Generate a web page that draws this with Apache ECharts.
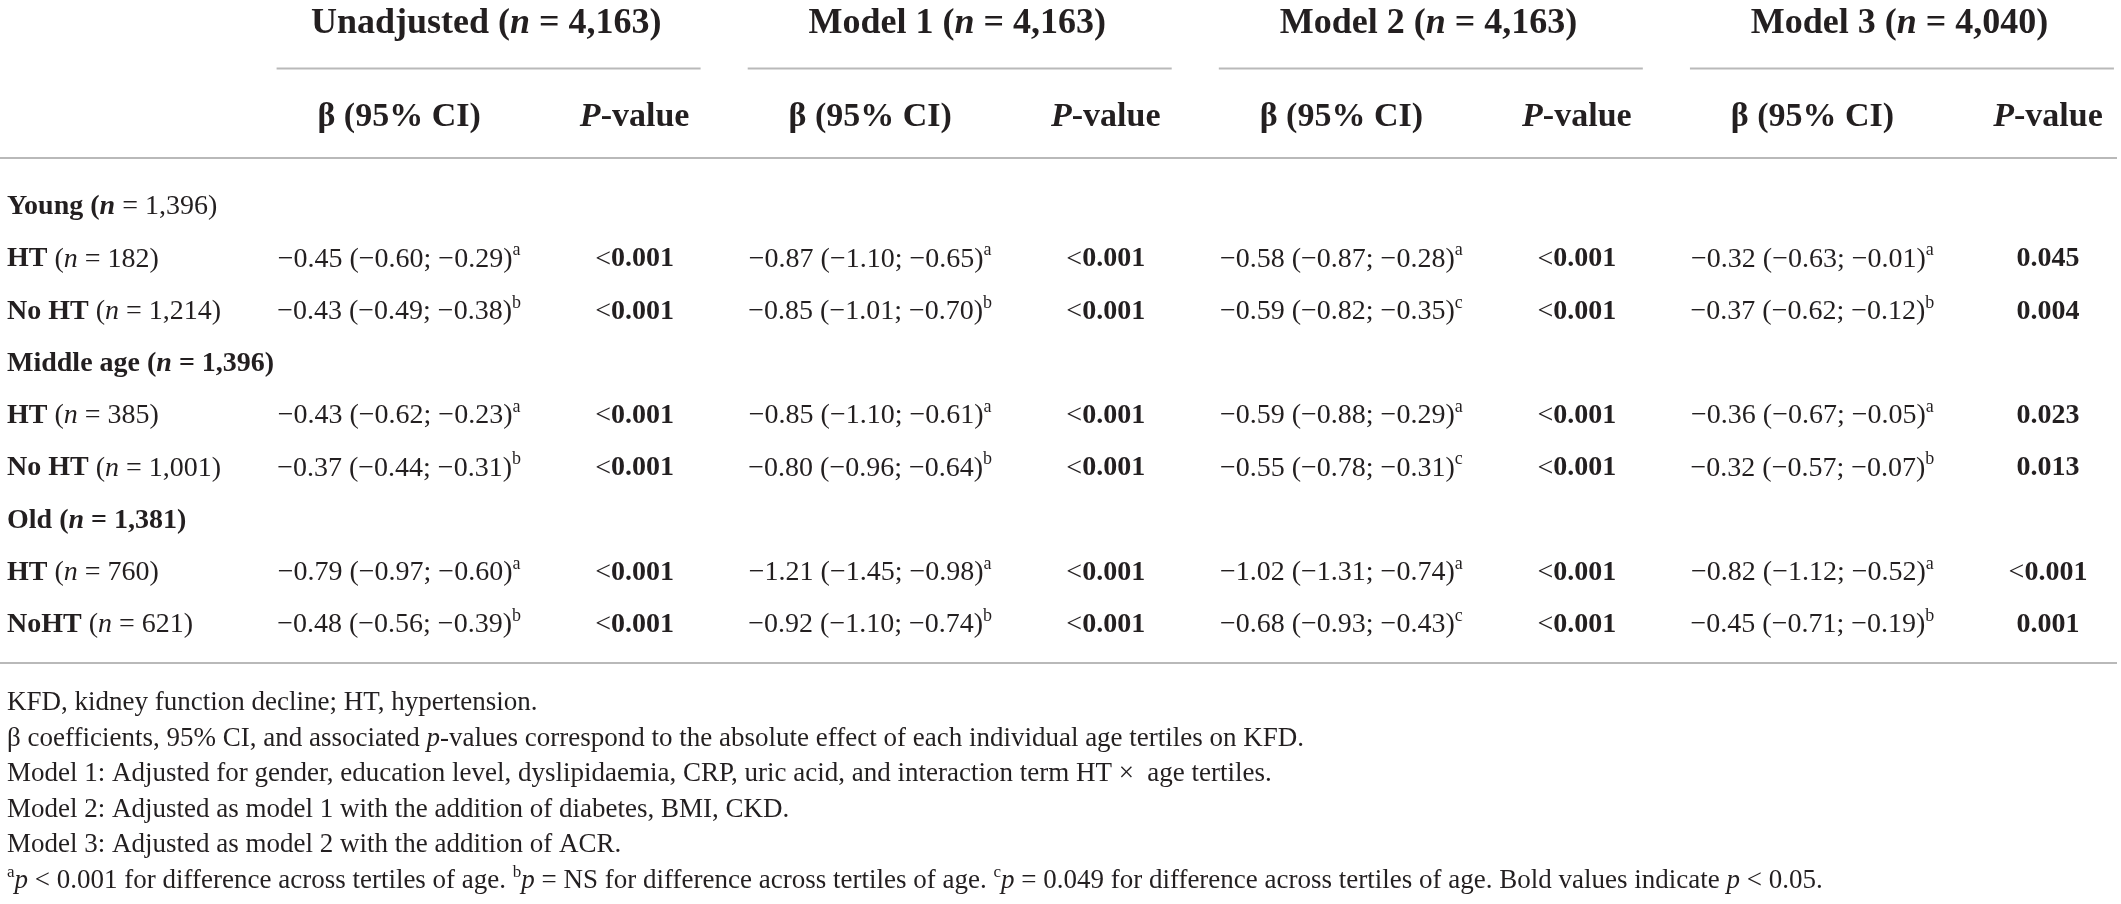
<!DOCTYPE html>
<html>
<head>
<meta charset="utf-8">
<script src="https://cdn.jsdelivr.net/npm/echarts@6/dist/echarts.min.js"></script>
<style>
  html, body { margin: 0; padding: 0; background: #fff; }
  #main { width: 2121px; height: 904px; }
</style>
</head>
<body>
<div id="main"></div>
<script>
// ---- table data ----
const modelNames = ['Unadjusted', 'Model 1', 'Model 2', 'Model 3'];
const modelN = ['4,163', '4,163', '4,163', '4,040'];
const groupNames = ['Young', 'Middle age', 'Old'];
const groupN = ['1,396', '1,396', '1,381'];
const subLabels = ['HT', 'No HT', 'HT', 'No HT', 'HT', 'NoHT'];
const subN = ['182', '1,214', '385', '1,001', '760', '621'];

// unadjusted
const unadjBeta = [-0.45, -0.43, -0.43, -0.37, -0.79, -0.48];
const unadjLow = [-0.60, -0.49, -0.62, -0.44, -0.97, -0.56];
const unadjHigh = [-0.29, -0.38, -0.23, -0.31, -0.60, -0.39];
const unadjSup = ['a', 'b', 'a', 'b', 'a', 'b'];
const unadjP = ['<0.001', '<0.001', '<0.001', '<0.001', '<0.001', '<0.001'];
// model 1
const m1Beta = [-0.87, -0.85, -0.85, -0.80, -1.21, -0.92];
const m1Low = [-1.10, -1.01, -1.10, -0.96, -1.45, -1.10];
const m1High = [-0.65, -0.70, -0.61, -0.64, -0.98, -0.74];
const m1Sup = ['a', 'b', 'a', 'b', 'a', 'b'];
const m1P = ['<0.001', '<0.001', '<0.001', '<0.001', '<0.001', '<0.001'];
// model 2
const m2Beta = [-0.58, -0.59, -0.59, -0.55, -1.02, -0.68];
const m2Low = [-0.87, -0.82, -0.88, -0.78, -1.31, -0.93];
const m2High = [-0.28, -0.35, -0.29, -0.31, -0.74, -0.43];
const m2Sup = ['a', 'c', 'a', 'c', 'a', 'c'];
const m2P = ['<0.001', '<0.001', '<0.001', '<0.001', '<0.001', '<0.001'];
// model 3
const m3Beta = [-0.32, -0.37, -0.36, -0.32, -0.82, -0.45];
const m3Low = [-0.63, -0.62, -0.67, -0.57, -1.12, -0.71];
const m3High = [-0.01, -0.12, -0.05, -0.07, -0.52, -0.19];
const m3Sup = ['a', 'b', 'a', 'b', 'a', 'b'];
const m3P = ['0.045', '0.004', '0.023', '0.013', '<0.001', '0.001'];

// footnotes (rich markup: r regular, i italic, sup superscript)
const footnotes = [
  '{r|KFD, kidney function decline; HT, hypertension.}',
  '{r|β coefficients, 95% CI, and associated }{i|p}{r|-values correspond to the absolute effect of each individual age tertiles on KFD.}',
  '{r|Model 1: Adjusted for gender, education level, dyslipidaemia, CRP, uric acid, and interaction term HT ×  age tertiles.}',
  '{r|Model 2: Adjusted as model 1 with the addition of diabetes, BMI, CKD.}',
  '{r|Model 3: Adjusted as model 2 with the addition of ACR.}',
  '{sup|a}{i|p}{r| < 0.001 for difference across tertiles of age. }{sup|b}{i|p}{r| = NS for difference across tertiles of age. }{sup|c}{i|p}{r| = 0.049 for difference across tertiles of age. Bold values indicate }{i|p}{r| < 0.05.}'
];

// ---- style ----
const FONT = "'Liberation Serif', 'DejaVu Serif', serif";
const INK = '#231f20';
const RULE = '#b9b9b9';
const BODY_SIZE = 28;
const MODEL_SIZE = 36;
const HEAD_SIZE = 34;
const NOTE_SIZE = 27;

function richSet(size) {
  const lh = Math.round(size * 1.25);
  const base = { fontFamily: FONT, fontSize: size, fill: INK, lineHeight: lh };
  return {
    r: base,
    b: Object.assign({}, base, { fontWeight: 'bold' }),
    i: Object.assign({}, base, { fontStyle: 'italic' }),
    bi: Object.assign({}, base, { fontWeight: 'bold', fontStyle: 'italic' }),
    sup: { fontFamily: FONT, fontSize: Math.round(size * 0.64), fill: INK,
           lineHeight: Math.round(size * 0.64), verticalAlign: 'top' }
  };
}
const bodyRich = richSet(BODY_SIZE);
const modelRich = richSet(MODEL_SIZE);
const headRich = richSet(HEAD_SIZE);
const noteRich = richSet(NOTE_SIZE);

const models = [
  { beta: unadjBeta, low: unadjLow, high: unadjHigh, sup: unadjSup, p: unadjP },
  { beta: m1Beta, low: m1Low, high: m1High, sup: m1Sup, p: m1P },
  { beta: m2Beta, low: m2Low, high: m2High, sup: m2Sup, p: m2P },
  { beta: m3Beta, low: m3Low, high: m3High, sup: m3Sup, p: m3P }
];

// body row list: group header then its two subgroups
const bodyRows = [];
groupNames.forEach((g, gi) => {
  bodyRows.push({ kind: 'group', gi });
  bodyRows.push({ kind: 'sub', si: gi * 2 });
  bodyRows.push({ kind: 'sub', si: gi * 2 + 1 });
});

const fmt = v => (v < 0 ? '\u2212' : '') + Math.abs(v).toFixed(2);
const fmtP = s => {
  const num = parseFloat(s.replace('<', ''));
  const tag = num < 0.05 ? 'b' : 'r';
  return s[0] === '<' ? `{r|<}{${tag}|${s.slice(1)}}` : `{${tag}|${s}}`;
};

// x axis: column index; label column at the left edge, 1+2m = beta col, 2+2m = P col
const X_MIN = -0.6645;
const X_MAX = 8.293;

function txt(x, y, text, rich, align) {
  return {
    type: 'text', x, y,
    style: { text, rich, align: align || 'center', verticalAlign: 'middle',
             fontFamily: FONT, fill: INK }
  };
}
function rule(x1, x2, y) {
  return { type: 'line', shape: { x1, y1: y, x2, y2: y },
           style: { stroke: RULE, lineWidth: 2 } };
}

function renderHeader(params, api) {
  const row = api.value(1);
  const children = [];
  if (row === 0) {
    const yNext = api.coord([0, 1])[1];
    modelNames.forEach((name, m) => {
      const c = api.coord([1 + 2 * m + 0.37, 0]);
      children.push(txt(c[0], c[1], `{b|${name} (}{bi|n}{b| = ${modelN[m]})}`, modelRich));
      const a = api.coord([1 + 2 * m - 0.52, 0])[0];
      const b = api.coord([2 + 2 * m + 0.28, 0])[0];
      children.push(rule(a, b, (c[1] + yNext) / 2 - 2));
    });
  } else {
    modelNames.forEach((name, m) => {
      const cb = api.coord([1 + 2 * m, 1]);
      const cp = api.coord([2 + 2 * m, 1]);
      children.push(txt(cb[0], cb[1], '{b|β (95% CI)}', headRich));
      children.push(txt(cp[0], cp[1], '{bi|P}{b|-value}', headRich));
    });
    const l = api.coord([X_MIN, 1]);
    const r = api.coord([X_MAX, 1]);
    children.push(rule(0, r[0], l[1] + 41));
  }
  return { type: 'group', children };
}

function renderBody(params, api) {
  const idx = api.value(1);
  const row = bodyRows[idx];
  const children = [];
  const left = api.coord([X_MIN, idx]);
  if (row.kind === 'group') {
    const gi = row.gi;
    const tail = gi === 0 ? 'r' : 'b';
    children.push(txt(left[0], left[1],
      `{b|${groupNames[gi]} (}{bi|n}{${tail}| = ${groupN[gi]})}`, bodyRich, 'left'));
  } else {
    const si = row.si;
    children.push(txt(left[0], left[1],
      `{b|${subLabels[si]}}{r| (}{i|n}{r| = ${subN[si]})}`, bodyRich, 'left'));
    models.forEach((md, m) => {
      const cb = api.coord([1 + 2 * m, idx]);
      const cp = api.coord([2 + 2 * m, idx]);
      const ci = `${fmt(md.beta[si])} (${fmt(md.low[si])}; ${fmt(md.high[si])})`;
      children.push(txt(cb[0], cb[1], `{r|${ci}}{sup|${md.sup[si]}}`, bodyRich));
      children.push(txt(cp[0], cp[1], fmtP(md.p[si]), bodyRich));
    });
  }
  if (idx === bodyRows.length - 1) {
    const r = api.coord([X_MAX, idx]);
    children.push(rule(0, r[0], left[1] + 38));
  }
  return { type: 'group', children };
}

function renderNote(params, api) {
  const idx = api.value(1);
  const p = api.coord([X_MIN, idx]);
  return txt(p[0], p[1], footnotes[idx], noteRich, 'left');
}

const xAxisBase = { type: 'value', min: X_MIN, max: X_MAX, show: false };
const yCat = (data, gi) => ({
  type: 'category', data, gridIndex: gi, inverse: true, boundaryGap: false, show: false
});

const chart = echarts.init(document.getElementById('main'), null, { renderer: 'canvas' });
chart.setOption({
  backgroundColor: '#ffffff',
  animation: false,
  grid: [
    { left: 7, right: 4, top: 24, height: 93 },
    { left: 7, right: 4, top: 207, height: 418 },
    { left: 7, right: 4, top: 703, height: 178 }
  ],
  xAxis: [0, 1, 2].map(g => Object.assign({ gridIndex: g }, xAxisBase)),
  yAxis: [
    yCat(['models', 'stats'], 0),
    yCat(bodyRows.map((r, i) => 'row' + i), 1),
    yCat(footnotes.map((f, i) => 'note' + i), 2)
  ],
  series: [
    { type: 'custom', xAxisIndex: 0, yAxisIndex: 0, silent: true,
      data: [[0, 0], [0, 1]], renderItem: renderHeader },
    { type: 'custom', xAxisIndex: 1, yAxisIndex: 1, silent: true,
      data: bodyRows.map((r, i) => [0, i]), renderItem: renderBody },
    { type: 'custom', xAxisIndex: 2, yAxisIndex: 2, silent: true,
      data: footnotes.map((f, i) => [0, i]), renderItem: renderNote }
  ]
});
</script>
</body>
</html>
